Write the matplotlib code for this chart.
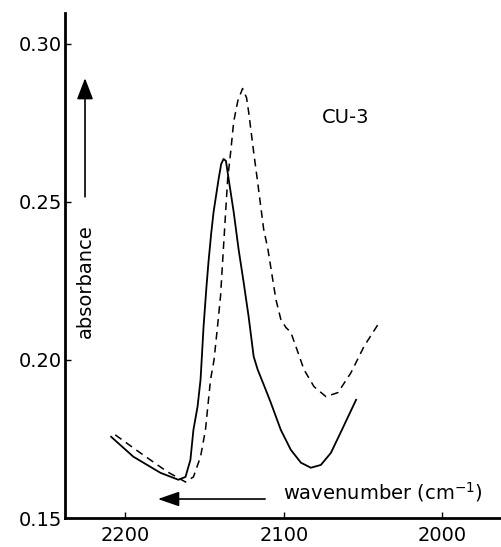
import matplotlib
matplotlib.use("Agg")
import matplotlib.pyplot as plt

# Data
solid_x = [2208.9, 2194.9, 2177.8, 2166.5, 2162.0, 2158.9, 2157.0, 2154.4, 2152.5,
           2150.6, 2148.8, 2147.5, 2145.8, 2144.3, 2141.1, 2139.5, 2138.0, 2136.5,
           2134.8, 2131.6, 2128.5, 2125.3, 2122.2, 2119.0, 2116.5, 2111.4, 2108.2,
           2101.9, 2095.6, 2089.2, 2082.9, 2076.6, 2070.3, 2064.0, 2054.4]
solid_y = [0.1757, 0.1694, 0.1643, 0.1621, 0.1630, 0.1684, 0.1779, 0.1852, 0.1938,
           0.2106, 0.2230, 0.2310, 0.2400, 0.2468, 0.2573, 0.2620, 0.2636, 0.2630,
           0.2573, 0.2468, 0.2350, 0.2245, 0.2138, 0.2011, 0.1970, 0.1906, 0.1865,
           0.1779, 0.1716, 0.1675, 0.1659, 0.1668, 0.1706, 0.1772, 0.1874]

dashed_x = [2206.3, 2190.5, 2173.4, 2162.0, 2157.0, 2152.5, 2149.4, 2147.5, 2146.2,
            2144.0, 2141.8, 2139.9, 2138.0, 2135.4, 2133.5, 2131.6, 2129.0, 2126.0,
            2123.5, 2122.2, 2119.0, 2116.5, 2112.7, 2110.0, 2105.0, 2101.9, 2098.7,
            2095.6, 2092.4, 2087.3, 2081.0, 2073.4, 2065.8, 2057.6, 2049.4, 2040.5]
dashed_y = [0.1763, 0.1706, 0.1646, 0.1614, 0.1630, 0.1694, 0.1779, 0.1874, 0.1938,
            0.2000, 0.2106, 0.2202, 0.2360, 0.2573, 0.2658, 0.2754, 0.2820, 0.2859,
            0.2830, 0.2786, 0.2658, 0.2563, 0.2414, 0.2350, 0.2192, 0.2129, 0.2103,
            0.2088, 0.2043, 0.1970, 0.1916, 0.1884, 0.1897, 0.1960, 0.2043, 0.2113]

x_ticks = [2200, 2100, 2000]
y_ticks = [0.15, 0.20, 0.25, 0.30]
y_tick_labels = ["0.15", "0.20", "0.25", "0.30"]

fig = plt.figure(figsize=(5.01, 5.47), dpi=100)
ax = fig.add_axes([65 / 501, 29 / 547, 436 / 501, 505 / 547])

ax.plot(solid_x, solid_y, color="black", lw=1.3)
ax.plot(dashed_x, dashed_y, color="black", lw=1.1, dashes=(5, 3.5))

ax.set_xlim(2238, 1963)
ax.set_ylim(0.15, 0.3098)

ax.set_xticks(x_ticks)
ax.set_xticklabels([str(t) for t in x_ticks])
ax.set_yticks(y_ticks)
ax.set_yticklabels(y_tick_labels)

for s in ["top", "right"]:
    ax.spines[s].set_visible(False)
for s in ["left", "bottom"]:
    ax.spines[s].set_linewidth(2)

ax.tick_params(axis="y", direction="in", length=4, width=1, pad=2, labelsize=14)
ax.tick_params(axis="x", direction="in", length=4, width=1, pad=6, labelsize=14)

# annotations
ax.annotate("", xy=(0.0459, 0.871), xytext=(0.0459, 0.636),
            xycoords="axes fraction", textcoords="axes fraction",
            arrowprops=dict(arrowstyle="-|>,head_length=1.3,head_width=0.5",
                            color="black", lw=1.2, mutation_scale=10,
                            shrinkA=0, shrinkB=0))
ax.text(0.0459, 0.469, "absorbance", transform=ax.transAxes, rotation=90,
        ha="center", va="center", fontsize=14)

ax.annotate("", xy=(0.213, 0.0376), xytext=(0.459, 0.0376),
            xycoords="axes fraction", textcoords="axes fraction",
            arrowprops=dict(arrowstyle="-|>,head_length=1.3,head_width=0.45",
                            color="black", lw=1.2, mutation_scale=10,
                            shrinkA=0, shrinkB=0))
ax.text(0.5, 0.0515, "wavenumber (cm$^{-1}$)", transform=ax.transAxes,
        ha="left", va="center", fontsize=14)

ax.text(0.644, 0.794, "CU-3", transform=ax.transAxes, ha="center", va="center",
        fontsize=14)

fig.savefig("out.png", dpi=100)
